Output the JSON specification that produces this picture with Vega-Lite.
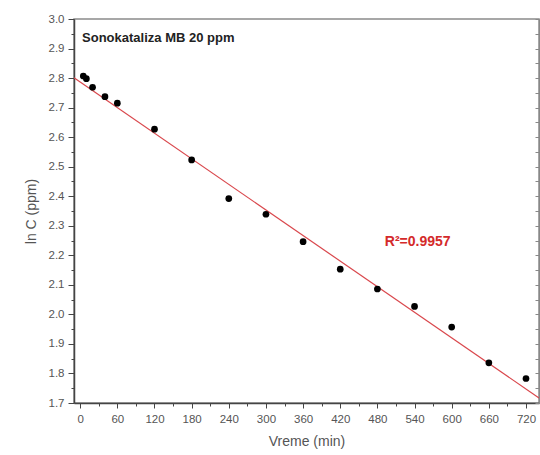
{
  "$schema": "https://vega.github.io/schema/vega-lite/v6.json",
  "width": 465,
  "height": 384,
  "autosize": "none",
  "padding": {"left": 74, "top": 19, "right": 1, "bottom": 52},
  "background": "white",
  "config": {
    "view": {"stroke": "#8a8a8a", "strokeWidth": 1.5},
    "font": "Liberation Sans",
    "axis": {"grid": false, "labelOverlap": false, "labelFont": "Liberation Sans", "titleFont": "Liberation Sans", "labelColor": "#555", "titleColor": "#555", "domainColor": "#444", "tickColor": "#444", "titleFontWeight": "normal"}
  },
  "datasets": {
    "pts": [
      {"t": 5, "lnC": 2.807},
      {"t": 10, "lnC": 2.798},
      {"t": 20, "lnC": 2.769},
      {"t": 40, "lnC": 2.737},
      {"t": 60, "lnC": 2.715},
      {"t": 120, "lnC": 2.627},
      {"t": 180, "lnC": 2.523},
      {"t": 240, "lnC": 2.392},
      {"t": 300, "lnC": 2.339},
      {"t": 360, "lnC": 2.246},
      {"t": 420, "lnC": 2.153},
      {"t": 480, "lnC": 2.086},
      {"t": 540, "lnC": 2.027},
      {"t": 600, "lnC": 1.957},
      {"t": 660, "lnC": 1.836},
      {"t": 720, "lnC": 1.783}
    ],
    "fit": [
      {"t": -10, "lnC": 2.801},
      {"t": 741, "lnC": 1.717}
    ],
    "labels": [
      {"t": 3, "lnC": 2.936, "txt": "Sonokataliza MB 20 ppm", "kind": "title"},
      {"t": 492, "lnC": 2.244, "txt": "R²=0.9957", "kind": "r2"}
    ]
  },
  "resolve": {"axis": {"y": "independent", "x": "independent"}},
  "layer": [
    {
      "data": {"name": "fit"},
      "mark": {"type": "line", "color": "#d9474c", "strokeWidth": 1.2, "clip": true},
      "encoding": {
        "x": {"field": "t", "type": "quantitative", "scale": {"domain": [-10, 741], "nice": false, "zero": false},
          "axis": {"title": "Vreme (min)", "titleFontSize": 14, "titlePadding": 10, "labelFontSize": 11.5, "labelPadding": 5, "labelOverlap": false,
            "values": [0,60,120,180,240,300,360,420,480,540,600,660,720],
            "format": "d", "tickSize": 5, "domainWidth": 1.5}},
        "y": {"field": "lnC", "type": "quantitative", "scale": {"domain": [1.7, 3.0], "nice": false, "zero": false},
          "axis": {"title": "ln C (ppm)", "titleFontSize": 14, "titlePadding": 10, "labelFontSize": 11.5, "labelPadding": 4, "labelOverlap": false,
            "values": [1.7,1.75,1.8,1.85,1.9,1.95,2.0,2.05,2.1,2.15,2.2,2.25,2.3,2.35,2.4,2.45,2.5,2.55,2.6,2.65,2.7,2.75,2.8,2.85,2.9,2.95,3.0],
            "labelExpr": "abs(datum.value*10 - round(datum.value*10)) < 0.001 ? format(datum.value, '.1f') : ''",
            "tickSize": {"condition": {"test": "abs(datum.value*10 - round(datum.value*10)) < 0.001", "value": 6}, "value": 3},
            "domainWidth": 1.5}}
      }
    },
    {
      "data": {"name": "pts"},
      "mark": {"type": "point", "filled": true, "color": "black", "size": 45, "opacity": 1},
      "encoding": {
        "x": {"field": "t", "type": "quantitative", "axis": {"orient": "bottom", "title": null, "labels": false, "domain": false,
            "values": [30,90,150,210,270,330,390,450,510,570,630,690], "tickSize": 3}},
        "y": {"field": "lnC", "type": "quantitative", "axis": {"orient": "right", "title": null, "labels": false, "domain": true, "domainColor": "#888",
            "values": [1.7,1.75,1.8,1.85,1.9,1.95,2.0,2.05,2.1,2.15,2.2,2.25,2.3,2.35,2.4,2.45,2.5,2.55,2.6,2.65,2.7,2.75,2.8,2.85,2.9,2.95,3.0],
            "tickSize": -4, "tickColor": "#888"}}
      }
    },
    {
      "data": {"name": "labels"},
      "mark": {"type": "text", "align": "left", "baseline": "middle", "fontWeight": "bold", "font": "Liberation Sans"},
      "encoding": {
        "x": {"field": "t", "type": "quantitative", "axis": null},
        "y": {"field": "lnC", "type": "quantitative", "axis": null},
        "text": {"field": "txt"},
        "color": {"field": "kind", "type": "nominal", "scale": {"domain": ["title", "r2"], "range": ["#222222", "#d42a2a"]}, "legend": null},
        "size": {"field": "kind", "type": "nominal", "scale": {"domain": ["title", "r2"], "range": [13, 14]}, "legend": null}
      }
    }
  ]
}
